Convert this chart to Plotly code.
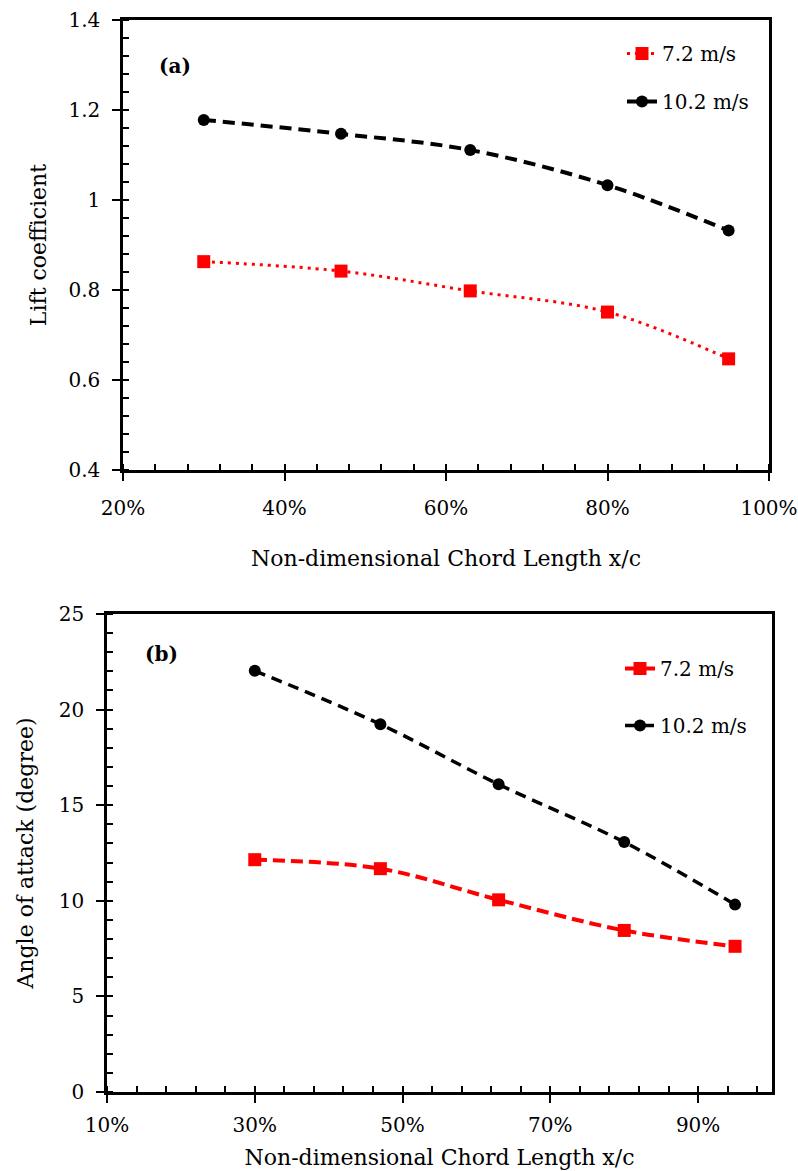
import plotly.graph_objects as go

# ---------------- data ----------------
chord_pos = [0.30, 0.47, 0.63, 0.80, 0.95]

lift_72 = [0.863, 0.842, 0.798, 0.751, 0.647]
lift_102 = [1.178, 1.147, 1.111, 1.033, 0.932]

aoa_72 = [12.15, 11.68, 10.05, 8.45, 7.62]
aoa_102 = [22.03, 19.23, 16.09, 13.07, 9.80]

series_names = ["7.2 m/s", "10.2 m/s"]

# ---------------- style ----------------
W, H = 798, 1171
FONT = "DejaVu Serif"
RED = "#FF0000"
BLACK = "#000000"


def px_x(p):
    return p / W


def px_y(p):
    return 1 - p / H


top_x_dom = [px_x(123), px_x(769)]
top_y_dom = [px_y(470), px_y(20)]
bot_x_dom = [px_x(107), px_x(772)]
bot_y_dom = [px_y(1092), px_y(614)]

fig = go.Figure()

# top panel (a)
fig.add_trace(go.Scatter(
    x=chord_pos, y=lift_72, name=series_names[0], mode="lines+markers",
    line=dict(color=RED, width=3, dash="3px,5px", shape="spline"),
    marker=dict(symbol="square", size=13, color=RED),
    xaxis="x", yaxis="y", legend="legend", legendgroup="a1"))
fig.add_trace(go.Scatter(
    x=chord_pos, y=lift_102, name=series_names[1], mode="lines+markers",
    line=dict(color=BLACK, width=4, dash="12px,7px", shape="spline"),
    marker=dict(symbol="circle", size=12, color=BLACK),
    xaxis="x", yaxis="y", legend="legend", legendgroup="a2"))

# bottom panel (b)
fig.add_trace(go.Scatter(
    x=chord_pos, y=aoa_72, name=series_names[0], mode="lines+markers",
    line=dict(color=RED, width=4, dash="12px,6px", shape="spline"),
    marker=dict(symbol="square", size=13, color=RED),
    xaxis="x2", yaxis="y2", legend="legend2", legendgroup="b1"))
fig.add_trace(go.Scatter(
    x=chord_pos, y=aoa_102, name=series_names[1], mode="lines+markers",
    line=dict(color=BLACK, width=3.5, dash="11px,7px", shape="spline"),
    marker=dict(symbol="circle", size=12, color=BLACK),
    xaxis="x2", yaxis="y2", legend="legend2", legendgroup="b2"))

# empty traces on overlay axes (inside part of the crossing major ticks)
fig.add_trace(go.Scatter(x=[], y=[], xaxis="x3", yaxis="y3", showlegend=False, hoverinfo="skip"))
fig.add_trace(go.Scatter(x=[], y=[], xaxis="x4", yaxis="y4", showlegend=False, hoverinfo="skip"))

tickfont = dict(family=FONT, size=20, color="black")
titlefont = dict(family=FONT, size=22, color="black")

common_axis = dict(showgrid=False, zeroline=False, showline=True, linecolor="black",
                   linewidth=2.5, ticks="outside", ticklen=8, tickwidth=2,
                   tickcolor="black", tickfont=tickfont, automargin=False, mirror=True)

overlay_axis = dict(showgrid=False, zeroline=False, showline=False, ticks="inside",
                    ticklen=6, tickwidth=2, tickcolor="black", showticklabels=False,
                    automargin=False)

fig.update_layout(
    width=W, height=H, autosize=False,
    margin=dict(l=0, r=0, t=0, b=0),
    paper_bgcolor="white", plot_bgcolor="white",
    font=dict(family=FONT, color="black"),
    xaxis=dict(common_axis, domain=top_x_dom, anchor="y", range=[0.2, 1.0],
               tick0=0.2, dtick=0.2, tickformat=".0%", ticklabelstandoff=10,
               title=dict(text="Non-dimensional Chord Length x/c", font=titlefont, standoff=32),
               minor=dict(ticks="inside", ticklen=6, tickwidth=2, tickcolor="black",
                          tick0=0.2, dtick=0.04, showgrid=False)),
    yaxis=dict(common_axis, domain=top_y_dom, anchor="x", range=[0.4, 1.4],
               tick0=0.4, dtick=0.2, ticklabelstandoff=8,
               title=dict(text="Lift coefficient", font=titlefont, standoff=16),
               minor=dict(ticks="inside", ticklen=6, tickwidth=2, tickcolor="black",
                          tick0=0.4, dtick=0.04, showgrid=False)),
    xaxis2=dict(common_axis, domain=bot_x_dom, anchor="y2", range=[0.1, 1.0],
                tick0=0.1, dtick=0.2, tickformat=".0%", ticklabelstandoff=5,
                title=dict(text="Non-dimensional Chord Length x/c", font=titlefont, standoff=14),
                minor=dict(ticks="inside", ticklen=6, tickwidth=2, tickcolor="black",
                           tick0=0.1, dtick=0.04, showgrid=False)),
    yaxis2=dict(common_axis, domain=bot_y_dom, anchor="x2", range=[0, 25],
                tick0=0, dtick=5, ticklabelstandoff=8,
                title=dict(text="Angle of attack (degree)", font=titlefont, standoff=20),
                minor=dict(ticks="inside", ticklen=6, tickwidth=2, tickcolor="black",
                           tick0=0, dtick=1, showgrid=False)),
    xaxis3=dict(overlay_axis, overlaying="x", anchor="y", domain=top_x_dom,
                range=[0.2, 1.0], tick0=0.2, dtick=0.2),
    yaxis3=dict(overlay_axis, overlaying="y", anchor="x", domain=top_y_dom,
                range=[0.4, 1.4], tick0=0.4, dtick=0.2),
    xaxis4=dict(overlay_axis, overlaying="x2", anchor="y2", domain=bot_x_dom,
                range=[0.1, 1.0], tick0=0.1, dtick=0.2),
    yaxis4=dict(overlay_axis, overlaying="y2", anchor="x2", domain=bot_y_dom,
                range=[0, 25], tick0=0, dtick=5),
    legend=dict(x=px_x(622), y=px_y(34), xanchor="left", yanchor="top",
                font=dict(family=FONT, size=20, color="black"),
                bgcolor="rgba(0,0,0,0)", traceorder="grouped", tracegroupgap=19,
                itemwidth=30),
    legend2=dict(x=px_x(620), y=px_y(649), xanchor="left", yanchor="top",
                 font=dict(family=FONT, size=20, color="black"),
                 bgcolor="rgba(0,0,0,0)", traceorder="grouped", tracegroupgap=28,
                 itemwidth=30),
    annotations=[
        dict(text="<b>(a)</b>", x=px_x(157), y=px_y(66), xref="paper", yref="paper",
             xanchor="left", yanchor="middle", showarrow=False,
             font=dict(family=FONT, size=20, color="black")),
        dict(text="<b>(b)</b>", x=px_x(143), y=px_y(654), xref="paper", yref="paper",
             xanchor="left", yanchor="middle", showarrow=False,
             font=dict(family=FONT, size=20, color="black")),
    ],
)

fig.write_html("out.html")
